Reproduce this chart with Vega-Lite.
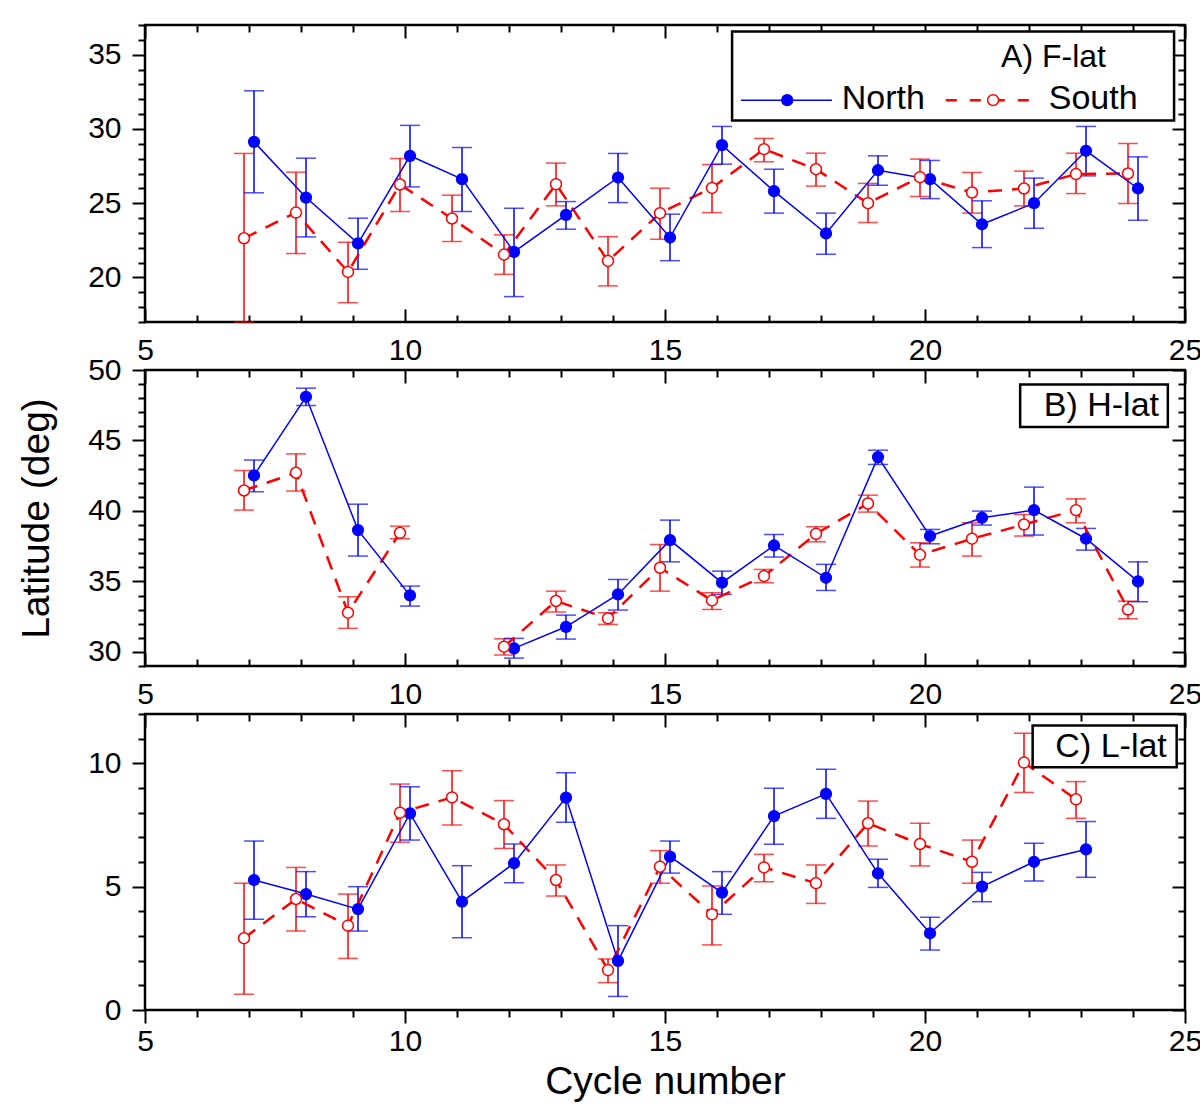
{
  "$schema": "https://vega.github.io/schema/vega-lite/v6.json",
  "background": "white",
  "padding": {"left": 16, "top": 22, "right": 5, "bottom": 5},
  "bounds": "flush",
  "spacing": 48,
  "config": {
    "font": "Liberation Sans",
    "view": {"stroke": "black", "strokeWidth": 2.5},
    "axis": {
      "labelFont": "Liberation Sans", "labelFontSize": 30, "labelColor": "black",
      "tickColor": "black", "tickWidth": 2, "domain": false, "grid": false,
      "labelFlush": false, "labelOverlap": false, "labelBound": false,
      "titleFont": "Liberation Sans", "titleFontSize": 39, "titleFontWeight": "normal", "titleColor": "black"
    }
  },
  "datasets": {
    "lat": [
      {"panel": "A", "hemi": "North", "cycle": 7, "lat": 29.13, "lo": 25.70, "hi": 32.57},
      {"panel": "A", "hemi": "North", "cycle": 8, "lat": 25.38, "lo": 22.73, "hi": 28.03},
      {"panel": "A", "hemi": "North", "cycle": 9, "lat": 22.30, "lo": 20.55, "hi": 23.99},
      {"panel": "A", "hemi": "North", "cycle": 10, "lat": 28.19, "lo": 26.10, "hi": 30.24},
      {"panel": "A", "hemi": "North", "cycle": 11, "lat": 26.62, "lo": 24.44, "hi": 28.75},
      {"panel": "A", "hemi": "North", "cycle": 12, "lat": 21.72, "lo": 18.71, "hi": 24.66},
      {"panel": "A", "hemi": "North", "cycle": 13, "lat": 24.21, "lo": 23.25, "hi": 25.11},
      {"panel": "A", "hemi": "North", "cycle": 14, "lat": 26.73, "lo": 25.04, "hi": 28.35},
      {"panel": "A", "hemi": "North", "cycle": 15, "lat": 22.69, "lo": 21.13, "hi": 24.26},
      {"panel": "A", "hemi": "North", "cycle": 16, "lat": 28.91, "lo": 27.63, "hi": 30.17},
      {"panel": "A", "hemi": "North", "cycle": 17, "lat": 25.81, "lo": 24.33, "hi": 27.29},
      {"panel": "A", "hemi": "North", "cycle": 18, "lat": 22.96, "lo": 21.56, "hi": 24.33},
      {"panel": "A", "hemi": "North", "cycle": 19, "lat": 27.22, "lo": 26.21, "hi": 28.19},
      {"panel": "A", "hemi": "North", "cycle": 20, "lat": 26.62, "lo": 25.31, "hi": 27.88},
      {"panel": "A", "hemi": "North", "cycle": 21, "lat": 23.58, "lo": 22.01, "hi": 25.16},
      {"panel": "A", "hemi": "North", "cycle": 22, "lat": 25.00, "lo": 23.31, "hi": 26.69},
      {"panel": "A", "hemi": "North", "cycle": 23, "lat": 28.53, "lo": 26.84, "hi": 30.17},
      {"panel": "A", "hemi": "North", "cycle": 24, "lat": 25.99, "lo": 23.85, "hi": 28.12},
      {"panel": "A", "hemi": "South", "cycle": 7, "lat": 22.64, "lo": 17.00, "hi": 28.35},
      {"panel": "A", "hemi": "South", "cycle": 8, "lat": 24.37, "lo": 21.61, "hi": 27.09},
      {"panel": "A", "hemi": "South", "cycle": 9, "lat": 20.37, "lo": 18.30, "hi": 22.37},
      {"panel": "A", "hemi": "South", "cycle": 10, "lat": 26.26, "lo": 24.44, "hi": 28.01},
      {"panel": "A", "hemi": "South", "cycle": 11, "lat": 23.97, "lo": 22.42, "hi": 25.54},
      {"panel": "A", "hemi": "South", "cycle": 12, "lat": 21.54, "lo": 20.21, "hi": 22.87},
      {"panel": "A", "hemi": "South", "cycle": 13, "lat": 26.28, "lo": 24.82, "hi": 27.70},
      {"panel": "A", "hemi": "South", "cycle": 14, "lat": 21.11, "lo": 19.43, "hi": 22.75},
      {"panel": "A", "hemi": "South", "cycle": 15, "lat": 24.33, "lo": 22.57, "hi": 26.01},
      {"panel": "A", "hemi": "South", "cycle": 16, "lat": 26.03, "lo": 24.37, "hi": 27.60},
      {"panel": "A", "hemi": "South", "cycle": 17, "lat": 28.64, "lo": 27.79, "hi": 29.36},
      {"panel": "A", "hemi": "South", "cycle": 18, "lat": 27.29, "lo": 26.15, "hi": 28.37},
      {"panel": "A", "hemi": "South", "cycle": 19, "lat": 25.00, "lo": 23.70, "hi": 26.33},
      {"panel": "A", "hemi": "South", "cycle": 20, "lat": 26.75, "lo": 25.45, "hi": 27.97},
      {"panel": "A", "hemi": "South", "cycle": 21, "lat": 25.72, "lo": 24.33, "hi": 27.07},
      {"panel": "A", "hemi": "South", "cycle": 22, "lat": 25.99, "lo": 24.82, "hi": 27.16},
      {"panel": "A", "hemi": "South", "cycle": 23, "lat": 26.96, "lo": 25.65, "hi": 28.37},
      {"panel": "A", "hemi": "South", "cycle": 24, "lat": 27.00, "lo": 24.98, "hi": 29.02},
      {"panel": "B", "hemi": "North", "cycle": 7, "lat": 42.52, "lo": 41.36, "hi": 43.61},
      {"panel": "B", "hemi": "North", "cycle": 8, "lat": 48.10, "lo": 47.48, "hi": 48.71},
      {"panel": "B", "hemi": "North", "cycle": 9, "lat": 38.64, "lo": 36.80, "hi": 40.48},
      {"panel": "B", "hemi": "North", "cycle": 10, "lat": 34.01, "lo": 33.25, "hi": 34.67},
      {"panel": "B", "hemi": "North", "cycle": 12, "lat": 30.25, "lo": 29.56, "hi": 30.96},
      {"panel": "B", "hemi": "North", "cycle": 13, "lat": 31.78, "lo": 30.91, "hi": 32.61},
      {"panel": "B", "hemi": "North", "cycle": 14, "lat": 34.08, "lo": 32.97, "hi": 35.14},
      {"panel": "B", "hemi": "North", "cycle": 15, "lat": 37.93, "lo": 36.39, "hi": 39.35},
      {"panel": "B", "hemi": "North", "cycle": 16, "lat": 34.91, "lo": 34.08, "hi": 35.73},
      {"panel": "B", "hemi": "North", "cycle": 17, "lat": 37.55, "lo": 36.73, "hi": 38.33},
      {"panel": "B", "hemi": "North", "cycle": 18, "lat": 35.26, "lo": 34.36, "hi": 36.21},
      {"panel": "B", "hemi": "North", "cycle": 19, "lat": 43.82, "lo": 43.30, "hi": 44.31},
      {"panel": "B", "hemi": "North", "cycle": 20, "lat": 38.22, "lo": 37.67, "hi": 38.69},
      {"panel": "B", "hemi": "North", "cycle": 21, "lat": 39.52, "lo": 39.00, "hi": 39.99},
      {"panel": "B", "hemi": "North", "cycle": 22, "lat": 40.06, "lo": 38.29, "hi": 41.69},
      {"panel": "B", "hemi": "North", "cycle": 23, "lat": 38.03, "lo": 37.22, "hi": 38.76},
      {"panel": "B", "hemi": "North", "cycle": 24, "lat": 35.00, "lo": 33.56, "hi": 36.39},
      {"panel": "B", "hemi": "South", "cycle": 7, "lat": 41.45, "lo": 40.06, "hi": 42.87},
      {"panel": "B", "hemi": "South", "cycle": 8, "lat": 42.71, "lo": 41.41, "hi": 44.05},
      {"panel": "B", "hemi": "South", "cycle": 9, "lat": 32.78, "lo": 31.67, "hi": 33.91},
      {"panel": "B", "hemi": "South", "cycle": 10, "lat": 38.45, "lo": 38.03, "hi": 38.92},
      {"panel": "B", "hemi": "South", "cycle": 12, "lat": 30.37, "lo": 29.78, "hi": 30.93},
      {"panel": "B", "hemi": "South", "cycle": 13, "lat": 33.61, "lo": 32.83, "hi": 34.31},
      {"panel": "B", "hemi": "South", "cycle": 14, "lat": 32.38, "lo": 31.95, "hi": 32.78},
      {"panel": "B", "hemi": "South", "cycle": 15, "lat": 35.97, "lo": 34.31, "hi": 37.62},
      {"panel": "B", "hemi": "South", "cycle": 16, "lat": 33.65, "lo": 33.01, "hi": 34.20},
      {"panel": "B", "hemi": "South", "cycle": 17, "lat": 35.38, "lo": 34.91, "hi": 35.85},
      {"panel": "B", "hemi": "South", "cycle": 18, "lat": 38.38, "lo": 37.81, "hi": 38.88},
      {"panel": "B", "hemi": "South", "cycle": 19, "lat": 40.53, "lo": 39.92, "hi": 41.12},
      {"panel": "B", "hemi": "South", "cycle": 20, "lat": 36.89, "lo": 36.02, "hi": 37.74},
      {"panel": "B", "hemi": "South", "cycle": 21, "lat": 38.03, "lo": 36.80, "hi": 39.16},
      {"panel": "B", "hemi": "South", "cycle": 22, "lat": 39.04, "lo": 38.22, "hi": 39.75},
      {"panel": "B", "hemi": "South", "cycle": 23, "lat": 40.06, "lo": 39.16, "hi": 40.86},
      {"panel": "B", "hemi": "South", "cycle": 24, "lat": 33.01, "lo": 32.35, "hi": 33.60},
      {"panel": "C", "hemi": "North", "cycle": 7, "lat": 5.27, "lo": 3.68, "hi": 6.85},
      {"panel": "C", "hemi": "North", "cycle": 8, "lat": 4.70, "lo": 3.78, "hi": 5.61},
      {"panel": "C", "hemi": "North", "cycle": 9, "lat": 4.09, "lo": 3.20, "hi": 5.00},
      {"panel": "C", "hemi": "North", "cycle": 10, "lat": 7.97, "lo": 6.89, "hi": 9.05},
      {"panel": "C", "hemi": "North", "cycle": 11, "lat": 4.39, "lo": 2.93, "hi": 5.85},
      {"panel": "C", "hemi": "North", "cycle": 12, "lat": 5.95, "lo": 5.16, "hi": 6.73},
      {"panel": "C", "hemi": "North", "cycle": 13, "lat": 8.61, "lo": 7.61, "hi": 9.62},
      {"panel": "C", "hemi": "North", "cycle": 14, "lat": 1.99, "lo": 0.55, "hi": 3.42},
      {"panel": "C", "hemi": "North", "cycle": 15, "lat": 6.22, "lo": 5.55, "hi": 6.85},
      {"panel": "C", "hemi": "North", "cycle": 16, "lat": 4.76, "lo": 3.88, "hi": 5.61},
      {"panel": "C", "hemi": "North", "cycle": 17, "lat": 7.86, "lo": 6.72, "hi": 8.99},
      {"panel": "C", "hemi": "North", "cycle": 18, "lat": 8.76, "lo": 7.77, "hi": 9.76},
      {"panel": "C", "hemi": "North", "cycle": 19, "lat": 5.54, "lo": 4.97, "hi": 6.11},
      {"panel": "C", "hemi": "North", "cycle": 20, "lat": 3.11, "lo": 2.43, "hi": 3.76},
      {"panel": "C", "hemi": "North", "cycle": 21, "lat": 5.00, "lo": 4.39, "hi": 5.58},
      {"panel": "C", "hemi": "North", "cycle": 22, "lat": 6.01, "lo": 5.23, "hi": 6.76},
      {"panel": "C", "hemi": "North", "cycle": 23, "lat": 6.51, "lo": 5.38, "hi": 7.64},
      {"panel": "C", "hemi": "South", "cycle": 7, "lat": 2.91, "lo": 0.64, "hi": 5.14},
      {"panel": "C", "hemi": "South", "cycle": 8, "lat": 4.50, "lo": 3.20, "hi": 5.78},
      {"panel": "C", "hemi": "South", "cycle": 9, "lat": 3.42, "lo": 2.09, "hi": 4.70},
      {"panel": "C", "hemi": "South", "cycle": 10, "lat": 8.00, "lo": 6.80, "hi": 9.16},
      {"panel": "C", "hemi": "South", "cycle": 11, "lat": 8.62, "lo": 7.50, "hi": 9.70},
      {"panel": "C", "hemi": "South", "cycle": 12, "lat": 7.53, "lo": 6.55, "hi": 8.49},
      {"panel": "C", "hemi": "South", "cycle": 13, "lat": 5.27, "lo": 4.62, "hi": 5.88},
      {"panel": "C", "hemi": "South", "cycle": 14, "lat": 1.62, "lo": 1.11, "hi": 2.07},
      {"panel": "C", "hemi": "South", "cycle": 15, "lat": 5.81, "lo": 5.14, "hi": 6.46},
      {"panel": "C", "hemi": "South", "cycle": 16, "lat": 3.88, "lo": 2.64, "hi": 5.03},
      {"panel": "C", "hemi": "South", "cycle": 17, "lat": 5.78, "lo": 5.20, "hi": 6.31},
      {"panel": "C", "hemi": "South", "cycle": 18, "lat": 5.14, "lo": 4.32, "hi": 5.88},
      {"panel": "C", "hemi": "South", "cycle": 19, "lat": 7.57, "lo": 6.65, "hi": 8.47},
      {"panel": "C", "hemi": "South", "cycle": 20, "lat": 6.73, "lo": 5.84, "hi": 7.57},
      {"panel": "C", "hemi": "South", "cycle": 21, "lat": 6.01, "lo": 5.14, "hi": 6.89},
      {"panel": "C", "hemi": "South", "cycle": 22, "lat": 10.03, "lo": 8.82, "hi": 11.22},
      {"panel": "C", "hemi": "South", "cycle": 23, "lat": 8.54, "lo": 7.77, "hi": 9.26}
    ],
    "labels": [
      {"panel": "A", "label": "A) F-lat"},
      {"panel": "A", "label": "North"},
      {"panel": "A", "label": "South"},
      {"panel": "B", "label": "B) H-lat"},
      {"panel": "C", "label": "C) L-lat"}
    ]
  },
  "vconcat": [
    {
      "width": 1040,
      "height": 297,
      "data": {"name": "lat"},
      "transform": [{"filter": "datum.panel === 'A'"}],
      "layer": [
        {
          "transform": [{"filter": "datum.hemi === 'South'"}],
          "mark": {"type": "errorbar", "color": "#ff0000", "thickness": 1.5, "rule": {"xOffset": -5}, "ticks": {"size": 20, "xOffset": -5}},
          "encoding": {
            "x": {"field": "cycle", "type": "quantitative", "scale": {"domain": [5, 25], "nice": false, "zero": false},
              "axis": {"orient": "bottom", "title": null, "values": [5, 10, 15, 20, 25], "tickSize": -13, "labelPadding": 26}},
            "y": {"field": "lo", "type": "quantitative", "scale": {"domain": [17, 37], "nice": false, "zero": false},
              "axis": {"orient": "left", "title": null, "values": [20, 25, 30, 35], "tickSize": 13, "labelPadding": 11}},
            "y2": {"field": "hi"}
          }
        },
        {
          "transform": [{"filter": "datum.hemi === 'North'"}],
          "mark": {"type": "errorbar", "color": "#0000ff", "thickness": 1.5, "rule": {"xOffset": 5}, "ticks": {"size": 20, "xOffset": 5}},
          "encoding": {
            "x": {"field": "cycle", "type": "quantitative", "scale": {"domain": [5, 25], "nice": false, "zero": false},
              "axis": {"orient": "bottom", "title": null, "labels": false, "tickSize": -7, "values": [6,7,8,9,11,12,13,14,16,17,18,19,21,22,23,24]}},
            "y": {"field": "lo", "type": "quantitative", "scale": {"domain": [17, 37], "nice": false, "zero": false},
              "axis": {"orient": "left", "title": null, "labels": false, "tickSize": 7, "values": [17,18,19,21,22,23,24,26,27,28,29,31,32,33,34,36,37]}},
            "y2": {"field": "hi"}
          }
        },
        {
          "transform": [{"filter": "datum.hemi === 'South'"}],
          "mark": {"type": "line", "color": "#ff0000", "strokeWidth": 2.5, "strokeDash": [14, 10], "xOffset": -5},
          "encoding": {
            "x": {"field": "cycle", "type": "quantitative", "scale": {"domain": [5, 25], "nice": false, "zero": false},
              "axis": {"orient": "top", "title": null, "labels": false, "tickSize": -13, "values": [5, 10, 15, 20, 25]}},
            "y": {"field": "lat", "type": "quantitative", "scale": {"domain": [17, 37], "nice": false, "zero": false},
              "axis": {"orient": "right", "title": null, "labels": false, "tickSize": -13, "values": [20, 25, 30, 35]}}
          }
        },
        {
          "transform": [{"filter": "datum.hemi === 'North'"}],
          "mark": {"type": "line", "color": "#0000ff", "strokeWidth": 1.5, "xOffset": 5},
          "encoding": {
            "x": {"field": "cycle", "type": "quantitative", "scale": {"domain": [5, 25], "nice": false, "zero": false},
              "axis": {"orient": "top", "title": null, "labels": false, "tickSize": -7, "values": [6,7,8,9,11,12,13,14,16,17,18,19,21,22,23,24]}},
            "y": {"field": "lat", "type": "quantitative", "scale": {"domain": [17, 37], "nice": false, "zero": false},
              "axis": {"orient": "right", "title": null, "labels": false, "tickSize": -7, "values": [17,18,19,21,22,23,24,26,27,28,29,31,32,33,34,36,37]}}
          }
        },
        {
          "transform": [{"filter": "datum.hemi === 'North'"}],
          "mark": {"type": "point", "shape": "circle", "filled": true, "size": 150, "color": "#0000ff", "opacity": 1, "xOffset": 5},
          "encoding": {
            "x": {"field": "cycle", "type": "quantitative", "scale": {"domain": [5, 25], "nice": false, "zero": false}, "axis": null},
            "y": {"field": "lat", "type": "quantitative", "scale": {"domain": [17, 37], "nice": false, "zero": false}, "axis": null}
          }
        },
        {
          "transform": [{"filter": "datum.hemi === 'South'"}],
          "mark": {"type": "point", "shape": "circle", "filled": true, "size": 120, "fill": "white", "stroke": "#ff0000", "strokeWidth": 1.5, "opacity": 1, "xOffset": -5},
          "encoding": {
            "x": {"field": "cycle", "type": "quantitative", "scale": {"domain": [5, 25], "nice": false, "zero": false}, "axis": null},
            "y": {"field": "lat", "type": "quantitative", "scale": {"domain": [17, 37], "nice": false, "zero": false}, "axis": null}
          }
        },
        {
          "data": {"name": "labels"},
          "transform": [{"filter": "datum.label === 'A) F-lat'"}],
          "mark": {"type": "rect", "fill": "white", "stroke": "black", "strokeWidth": 2.5},
          "encoding": {
            "x": {"datum": 16.29, "type": "quantitative", "scale": {"domain": [5, 25], "nice": false, "zero": false}, "axis": null},
            "x2": {"datum": 24.79},
            "y": {"datum": 30.57, "type": "quantitative", "scale": {"domain": [17, 37], "nice": false, "zero": false}, "axis": null},
            "y2": {"datum": 36.57}
          }
        },
        {
          "data": {"name": "labels"},
          "transform": [{"filter": "datum.label === 'A) F-lat'"}],
          "mark": {"type": "text", "align": "right", "baseline": "middle", "font": "Liberation Sans", "fontSize": 32, "color": "black"},
          "encoding": {
            "x": {"datum": 23.48, "type": "quantitative", "scale": {"domain": [5, 25], "nice": false, "zero": false}, "axis": null},
            "y": {"datum": 34.82, "type": "quantitative", "scale": {"domain": [17, 37], "nice": false, "zero": false}, "axis": null},
            "text": {"field": "label"}
          }
        },
        {
          "data": {"name": "labels"},
          "transform": [{"filter": "datum.label === 'North'"}],
          "mark": {"type": "rule", "color": "#0000ff", "strokeWidth": 1.5},
          "encoding": {
            "x": {"datum": 16.46, "type": "quantitative", "scale": {"domain": [5, 25], "nice": false, "zero": false}, "axis": null},
            "x2": {"datum": 18.21},
            "y": {"datum": 31.94, "type": "quantitative", "scale": {"domain": [17, 37], "nice": false, "zero": false}, "axis": null}
          }
        },
        {
          "data": {"name": "labels"},
          "transform": [{"filter": "datum.label === 'North'"}],
          "mark": {"type": "point", "shape": "circle", "filled": true, "size": 150, "color": "#0000ff", "opacity": 1},
          "encoding": {
            "x": {"datum": 17.35, "type": "quantitative", "scale": {"domain": [5, 25], "nice": false, "zero": false}, "axis": null},
            "y": {"datum": 31.94, "type": "quantitative", "scale": {"domain": [17, 37], "nice": false, "zero": false}, "axis": null}
          }
        },
        {
          "data": {"name": "labels"},
          "transform": [{"filter": "datum.label === 'North'"}],
          "mark": {"type": "text", "align": "left", "baseline": "middle", "font": "Liberation Sans", "fontSize": 34, "color": "black"},
          "encoding": {
            "x": {"datum": 18.40, "type": "quantitative", "scale": {"domain": [5, 25], "nice": false, "zero": false}, "axis": null},
            "y": {"datum": 32.0, "type": "quantitative", "scale": {"domain": [17, 37], "nice": false, "zero": false}, "axis": null},
            "text": {"field": "label"}
          }
        },
        {
          "data": {"name": "labels"},
          "transform": [{"filter": "datum.label === 'South'"}],
          "mark": {"type": "rule", "color": "#ff0000", "strokeWidth": 2.5, "strokeDash": [11, 13]},
          "encoding": {
            "x": {"datum": 20.40, "type": "quantitative", "scale": {"domain": [5, 25], "nice": false, "zero": false}, "axis": null},
            "x2": {"datum": 22.12},
            "y": {"datum": 31.94, "type": "quantitative", "scale": {"domain": [17, 37], "nice": false, "zero": false}, "axis": null}
          }
        },
        {
          "data": {"name": "labels"},
          "transform": [{"filter": "datum.label === 'South'"}],
          "mark": {"type": "point", "shape": "circle", "filled": true, "size": 120, "fill": "white", "stroke": "#ff0000", "strokeWidth": 1.5, "opacity": 1},
          "encoding": {
            "x": {"datum": 21.31, "type": "quantitative", "scale": {"domain": [5, 25], "nice": false, "zero": false}, "axis": null},
            "y": {"datum": 31.94, "type": "quantitative", "scale": {"domain": [17, 37], "nice": false, "zero": false}, "axis": null}
          }
        },
        {
          "data": {"name": "labels"},
          "transform": [{"filter": "datum.label === 'South'"}],
          "mark": {"type": "text", "align": "left", "baseline": "middle", "font": "Liberation Sans", "fontSize": 34, "color": "black"},
          "encoding": {
            "x": {"datum": 22.38, "type": "quantitative", "scale": {"domain": [5, 25], "nice": false, "zero": false}, "axis": null},
            "y": {"datum": 32.0, "type": "quantitative", "scale": {"domain": [17, 37], "nice": false, "zero": false}, "axis": null},
            "text": {"field": "label"}
          }
        }
      ],
      "resolve": {"axis": {"x": "independent", "y": "independent"}}
    },
    {
      "width": 1040,
      "height": 296,
      "data": {"name": "lat"},
      "transform": [{"filter": "datum.panel === 'B'"}],
      "layer": [
        {
          "transform": [{"filter": "datum.hemi === 'South'"}],
          "mark": {"type": "errorbar", "color": "#ff0000", "thickness": 1.5, "rule": {"xOffset": -5}, "ticks": {"size": 20, "xOffset": -5}},
          "encoding": {
            "x": {"field": "cycle", "type": "quantitative", "scale": {"domain": [5, 25], "nice": false, "zero": false},
              "axis": {"orient": "bottom", "title": null, "values": [5, 10, 15, 20, 25], "tickSize": -13, "labelPadding": 26}},
            "y": {"field": "lo", "type": "quantitative", "scale": {"domain": [29, 50], "nice": false, "zero": false},
              "axis": {"orient": "left", "title": "Latitude (deg)", "titlePadding": 31, "values": [30, 35, 40, 45, 50], "tickSize": 13, "labelPadding": 11}},
            "y2": {"field": "hi"}
          }
        },
        {
          "transform": [{"filter": "datum.hemi === 'North'"}],
          "mark": {"type": "errorbar", "color": "#0000ff", "thickness": 1.5, "rule": {"xOffset": 5}, "ticks": {"size": 20, "xOffset": 5}},
          "encoding": {
            "x": {"field": "cycle", "type": "quantitative", "scale": {"domain": [5, 25], "nice": false, "zero": false},
              "axis": {"orient": "bottom", "title": null, "labels": false, "tickSize": -7, "values": [6,7,8,9,11,12,13,14,16,17,18,19,21,22,23,24]}},
            "y": {"field": "lo", "type": "quantitative", "scale": {"domain": [29, 50], "nice": false, "zero": false},
              "axis": {"orient": "left", "title": null, "labels": false, "tickSize": 7, "values": [29,31,32,33,34,36,37,38,39,41,42,43,44,46,47,48,49]}},
            "y2": {"field": "hi"}
          }
        },
        {
          "transform": [{"filter": "datum.hemi === 'South' && datum.cycle < 11"}],
          "mark": {"type": "line", "color": "#ff0000", "strokeWidth": 2.5, "strokeDash": [14, 10], "xOffset": -5},
          "encoding": {
            "x": {"field": "cycle", "type": "quantitative", "scale": {"domain": [5, 25], "nice": false, "zero": false},
              "axis": {"orient": "top", "title": null, "labels": false, "tickSize": -13, "values": [5, 10, 15, 20, 25]}},
            "y": {"field": "lat", "type": "quantitative", "scale": {"domain": [29, 50], "nice": false, "zero": false},
              "axis": {"orient": "right", "title": null, "labels": false, "tickSize": -13, "values": [30, 35, 40, 45, 50]}}
          }
        },
        {
          "transform": [{"filter": "datum.hemi === 'North' && datum.cycle < 11"}],
          "mark": {"type": "line", "color": "#0000ff", "strokeWidth": 1.5, "xOffset": 5},
          "encoding": {
            "x": {"field": "cycle", "type": "quantitative", "scale": {"domain": [5, 25], "nice": false, "zero": false},
              "axis": {"orient": "top", "title": null, "labels": false, "tickSize": -7, "values": [6,7,8,9,11,12,13,14,16,17,18,19,21,22,23,24]}},
            "y": {"field": "lat", "type": "quantitative", "scale": {"domain": [29, 50], "nice": false, "zero": false},
              "axis": {"orient": "right", "title": null, "labels": false, "tickSize": -7, "values": [29,31,32,33,34,36,37,38,39,41,42,43,44,46,47,48,49]}}
          }
        },
        {
          "transform": [{"filter": "datum.hemi === 'South' && datum.cycle > 11"}],
          "mark": {"type": "line", "color": "#ff0000", "strokeWidth": 2.5, "strokeDash": [14, 10], "xOffset": -5},
          "encoding": {
            "x": {"field": "cycle", "type": "quantitative", "scale": {"domain": [5, 25], "nice": false, "zero": false}, "axis": null},
            "y": {"field": "lat", "type": "quantitative", "scale": {"domain": [29, 50], "nice": false, "zero": false}, "axis": null}
          }
        },
        {
          "transform": [{"filter": "datum.hemi === 'North' && datum.cycle > 11"}],
          "mark": {"type": "line", "color": "#0000ff", "strokeWidth": 1.5, "xOffset": 5},
          "encoding": {
            "x": {"field": "cycle", "type": "quantitative", "scale": {"domain": [5, 25], "nice": false, "zero": false}, "axis": null},
            "y": {"field": "lat", "type": "quantitative", "scale": {"domain": [29, 50], "nice": false, "zero": false}, "axis": null}
          }
        },
        {
          "transform": [{"filter": "datum.hemi === 'North'"}],
          "mark": {"type": "point", "shape": "circle", "filled": true, "size": 150, "color": "#0000ff", "opacity": 1, "xOffset": 5},
          "encoding": {
            "x": {"field": "cycle", "type": "quantitative", "scale": {"domain": [5, 25], "nice": false, "zero": false}, "axis": null},
            "y": {"field": "lat", "type": "quantitative", "scale": {"domain": [29, 50], "nice": false, "zero": false}, "axis": null}
          }
        },
        {
          "transform": [{"filter": "datum.hemi === 'South'"}],
          "mark": {"type": "point", "shape": "circle", "filled": true, "size": 120, "fill": "white", "stroke": "#ff0000", "strokeWidth": 1.5, "opacity": 1, "xOffset": -5},
          "encoding": {
            "x": {"field": "cycle", "type": "quantitative", "scale": {"domain": [5, 25], "nice": false, "zero": false}, "axis": null},
            "y": {"field": "lat", "type": "quantitative", "scale": {"domain": [29, 50], "nice": false, "zero": false}, "axis": null}
          }
        },
        {
          "data": {"name": "labels"},
          "transform": [{"filter": "datum.panel === 'B'"}],
          "mark": {"type": "rect", "fill": "white", "stroke": "black", "strokeWidth": 2.5},
          "encoding": {
            "x": {"datum": 21.83, "type": "quantitative", "scale": {"domain": [5, 25], "nice": false, "zero": false}, "axis": null},
            "x2": {"datum": 24.67},
            "y": {"datum": 45.95, "type": "quantitative", "scale": {"domain": [29, 50], "nice": false, "zero": false}, "axis": null},
            "y2": {"datum": 48.97}
          }
        },
        {
          "data": {"name": "labels"},
          "transform": [{"filter": "datum.panel === 'B'"}],
          "mark": {"type": "text", "align": "right", "baseline": "middle", "font": "Liberation Sans", "fontSize": 34, "color": "black"},
          "encoding": {
            "x": {"datum": 24.5, "type": "quantitative", "scale": {"domain": [5, 25], "nice": false, "zero": false}, "axis": null},
            "y": {"datum": 47.45, "type": "quantitative", "scale": {"domain": [29, 50], "nice": false, "zero": false}, "axis": null},
            "text": {"field": "label"}
          }
        }
      ],
      "resolve": {"axis": {"x": "independent", "y": "independent"}}
    },
    {
      "width": 1040,
      "height": 296,
      "data": {"name": "lat"},
      "transform": [{"filter": "datum.panel === 'C'"}],
      "layer": [
        {
          "transform": [{"filter": "datum.hemi === 'South'"}],
          "mark": {"type": "errorbar", "color": "#ff0000", "thickness": 1.5, "rule": {"xOffset": -5}, "ticks": {"size": 20, "xOffset": -5}},
          "encoding": {
            "x": {"field": "cycle", "type": "quantitative", "scale": {"domain": [5, 25], "nice": false, "zero": false},
              "axis": {"orient": "bottom", "title": "Cycle number", "titlePadding": 6, "values": [5, 10, 15, 20, 25], "tickSize": 13, "labelPadding": 3}},
            "y": {"field": "lo", "type": "quantitative", "scale": {"domain": [0, 12], "nice": false, "zero": false},
              "axis": {"orient": "left", "title": null, "values": [0, 5, 10], "tickSize": 13, "labelPadding": 11}},
            "y2": {"field": "hi"}
          }
        },
        {
          "transform": [{"filter": "datum.hemi === 'North'"}],
          "mark": {"type": "errorbar", "color": "#0000ff", "thickness": 1.5, "rule": {"xOffset": 5}, "ticks": {"size": 20, "xOffset": 5}},
          "encoding": {
            "x": {"field": "cycle", "type": "quantitative", "scale": {"domain": [5, 25], "nice": false, "zero": false},
              "axis": {"orient": "bottom", "title": null, "labels": false, "tickSize": 7, "values": [6,7,8,9,11,12,13,14,16,17,18,19,21,22,23,24]}},
            "y": {"field": "lo", "type": "quantitative", "scale": {"domain": [0, 12], "nice": false, "zero": false},
              "axis": {"orient": "left", "title": null, "labels": false, "tickSize": 7, "values": [1,2,3,4,6,7,8,9,11,12]}},
            "y2": {"field": "hi"}
          }
        },
        {
          "transform": [{"filter": "datum.hemi === 'South'"}],
          "mark": {"type": "line", "color": "#ff0000", "strokeWidth": 2.5, "strokeDash": [14, 10], "xOffset": -5},
          "encoding": {
            "x": {"field": "cycle", "type": "quantitative", "scale": {"domain": [5, 25], "nice": false, "zero": false},
              "axis": {"orient": "top", "title": null, "labels": false, "tickSize": -13, "values": [5, 10, 15, 20, 25]}},
            "y": {"field": "lat", "type": "quantitative", "scale": {"domain": [0, 12], "nice": false, "zero": false},
              "axis": {"orient": "right", "title": null, "labels": false, "tickSize": -13, "values": [0, 5, 10]}}
          }
        },
        {
          "transform": [{"filter": "datum.hemi === 'North'"}],
          "mark": {"type": "line", "color": "#0000ff", "strokeWidth": 1.5, "xOffset": 5},
          "encoding": {
            "x": {"field": "cycle", "type": "quantitative", "scale": {"domain": [5, 25], "nice": false, "zero": false},
              "axis": {"orient": "top", "title": null, "labels": false, "tickSize": -7, "values": [6,7,8,9,11,12,13,14,16,17,18,19,21,22,23,24]}},
            "y": {"field": "lat", "type": "quantitative", "scale": {"domain": [0, 12], "nice": false, "zero": false},
              "axis": {"orient": "right", "title": null, "labels": false, "tickSize": -7, "values": [1,2,3,4,6,7,8,9,11,12]}}
          }
        },
        {
          "transform": [{"filter": "datum.hemi === 'North'"}],
          "mark": {"type": "point", "shape": "circle", "filled": true, "size": 150, "color": "#0000ff", "opacity": 1, "xOffset": 5},
          "encoding": {
            "x": {"field": "cycle", "type": "quantitative", "scale": {"domain": [5, 25], "nice": false, "zero": false}, "axis": null},
            "y": {"field": "lat", "type": "quantitative", "scale": {"domain": [0, 12], "nice": false, "zero": false}, "axis": null}
          }
        },
        {
          "transform": [{"filter": "datum.hemi === 'South'"}],
          "mark": {"type": "point", "shape": "circle", "filled": true, "size": 120, "fill": "white", "stroke": "#ff0000", "strokeWidth": 1.5, "opacity": 1, "xOffset": -5},
          "encoding": {
            "x": {"field": "cycle", "type": "quantitative", "scale": {"domain": [5, 25], "nice": false, "zero": false}, "axis": null},
            "y": {"field": "lat", "type": "quantitative", "scale": {"domain": [0, 12], "nice": false, "zero": false}, "axis": null}
          }
        },
        {
          "data": {"name": "labels"},
          "transform": [{"filter": "datum.panel === 'C'"}],
          "mark": {"type": "rect", "fill": "white", "stroke": "black", "strokeWidth": 2.5},
          "encoding": {
            "x": {"datum": 22.07, "type": "quantitative", "scale": {"domain": [5, 25], "nice": false, "zero": false}, "axis": null},
            "x2": {"datum": 24.84},
            "y": {"datum": 9.84, "type": "quantitative", "scale": {"domain": [0, 12], "nice": false, "zero": false}, "axis": null},
            "y2": {"datum": 11.53}
          }
        },
        {
          "data": {"name": "labels"},
          "transform": [{"filter": "datum.panel === 'C'"}],
          "mark": {"type": "text", "align": "right", "baseline": "middle", "font": "Liberation Sans", "fontSize": 34, "color": "black"},
          "encoding": {
            "x": {"datum": 24.65, "type": "quantitative", "scale": {"domain": [5, 25], "nice": false, "zero": false}, "axis": null},
            "y": {"datum": 10.65, "type": "quantitative", "scale": {"domain": [0, 12], "nice": false, "zero": false}, "axis": null},
            "text": {"field": "label"}
          }
        }
      ],
      "resolve": {"axis": {"x": "independent", "y": "independent"}}
    }
  ]
}
